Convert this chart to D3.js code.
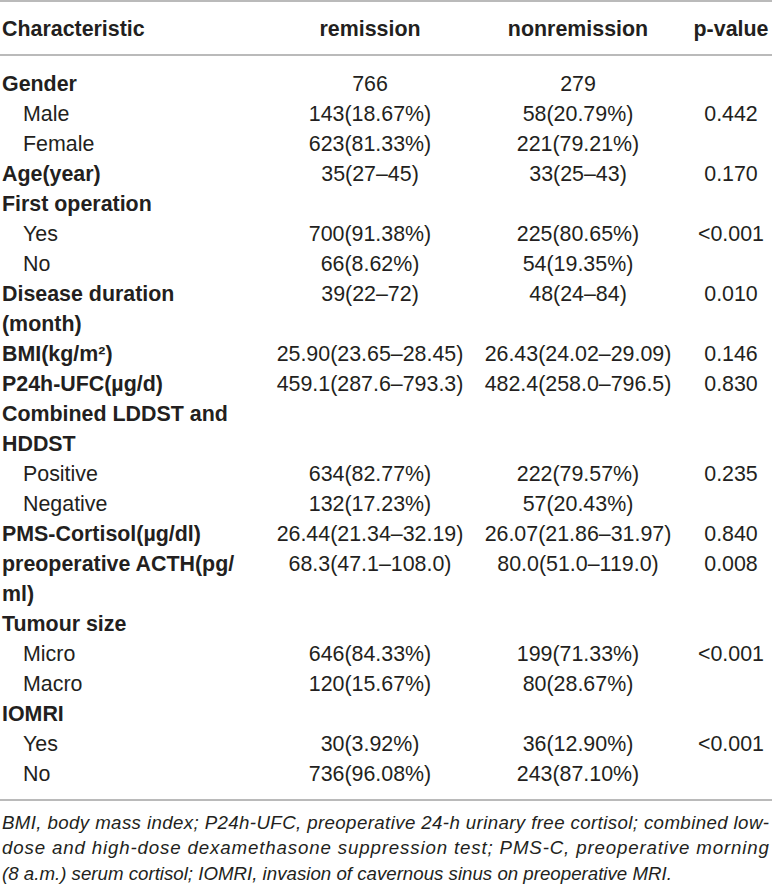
<!DOCTYPE html>
<html>
<head>
<meta charset="utf-8">
<script src="https://cdn.jsdelivr.net/npm/d3@7"></script>
<style>
  html, body { margin: 0; padding: 0; background: #fff; }
  svg { display: block; }
</style>
</head>
<body>
<svg id="chart" width="772" height="890"></svg>
<script>
// ---- data ----
const headers = ["Characteristic", "remission", "nonremission", "p-value"];
// each row: label lines (first line carries the values)
const labels = [
  ["Gender"], ["Male"], ["Female"], ["Age(year)"], ["First operation"], ["Yes"], ["No"],
  ["Disease duration", "(month)"], ["BMI(kg/m²)"], ["P24h-UFC(µg/d)"],
  ["Combined LDDST and", "HDDST"], ["Positive"], ["Negative"], ["PMS-Cortisol(µg/dl)"],
  ["preoperative ACTH(pg/", "ml)"], ["Tumour size"], ["Micro"], ["Macro"], ["IOMRI"], ["Yes"], ["No"]
];
const isGroup = [true, false, false, true, true, false, false, true, true, true, true, false, false, true, true, true, false, false, true, false, false];
const remission = ["766", "143(18.67%)", "623(81.33%)", "35(27–45)", "", "700(91.38%)", "66(8.62%)",
  "39(22–72)", "25.90(23.65–28.45)", "459.1(287.6–793.3)", "", "634(82.77%)", "132(17.23%)",
  "26.44(21.34–32.19)", "68.3(47.1–108.0)", "", "646(84.33%)", "120(15.67%)", "", "30(3.92%)", "736(96.08%)"];
const nonremission = ["279", "58(20.79%)", "221(79.21%)", "33(25–43)", "", "225(80.65%)", "54(19.35%)",
  "48(24–84)", "26.43(24.02–29.09)", "482.4(258.0–796.5)", "", "222(79.57%)", "57(20.43%)",
  "26.07(21.86–31.97)", "80.0(51.0–119.0)", "", "199(71.33%)", "80(28.67%)", "", "36(12.90%)", "243(87.10%)"];
const pvalues = ["", "0.442", "", "0.170", "", "<0.001", "", "0.010", "0.146", "0.830", "", "0.235", "",
  "0.840", "0.008", "", "<0.001", "", "", "<0.001", ""];
const footnote = [
  "BMI, body mass index; P24h-UFC, preoperative 24-h urinary free cortisol; combined low-",
  "dose and high-dose dexamethasone suppression test; PMS-C, preoperative morning",
  "(8 a.m.) serum cortisol; IOMRI, invasion of cavernous sinus on preoperative MRI."
];

// ---- layout ----
const svg = d3.select("#chart");
const W = 772;
const textColor = "#231f20";
const ruleColor = "#a3a3a3";
const font = "'Liberation Sans', Arial, Helvetica, sans-serif";
const fs = 21.4;

// line index -> y center
let lineIdx = 0;
const rows = labels.map((lab, i) => {
  const r = { lines: lab, start: lineIdx, group: isGroup[i], rem: remission[i], non: nonremission[i], p: pvalues[i] };
  lineIdx += lab.length;
  return r;
});
const nLines = lineIdx;
const y = d3.scaleLinear().domain([0, nLines - 1]).range([83, 773]);
const colX = d3.scaleOrdinal().domain(["rem", "non", "p"]).range([370, 578, 731]);

// rules
const rules = [1, 55, 800];
svg.selectAll("line.rule").data(rules).join("line")
  .attr("class", "rule")
  .attr("x1", 0).attr("x2", W)
  .attr("y1", d => d).attr("y2", d => d)
  .attr("stroke", ruleColor).attr("stroke-width", 1.6);

// header
const hdrY = 28;
svg.append("text").attr("x", 2).attr("y", hdrY).attr("dy", "0.36em")
  .attr("font-family", font).attr("font-size", fs).attr("font-weight", "bold")
  .attr("fill", textColor).text(headers[0]);
["rem", "non", "p"].forEach((k, i) => {
  svg.append("text").attr("x", colX(k)).attr("y", hdrY).attr("dy", "0.36em")
    .attr("text-anchor", "middle")
    .attr("font-family", font).attr("font-size", fs).attr("font-weight", "bold")
    .attr("fill", textColor).text(headers[i + 1]);
});

// body
const g = svg.append("g");
rows.forEach(r => {
  r.lines.forEach((ln, j) => {
    g.append("text")
      .attr("x", r.group ? 2 : 23)
      .attr("y", y(r.start + j)).attr("dy", "0.36em")
      .attr("font-family", font).attr("font-size", fs)
      .attr("font-weight", r.group ? "bold" : "normal")
      .attr("fill", textColor).text(ln);
  });
  [["rem", r.rem], ["non", r.non], ["p", r.p]].forEach(([k, v]) => {
    if (!v) return;
    g.append("text")
      .attr("x", colX(k)).attr("y", y(r.start)).attr("dy", "0.36em")
      .attr("text-anchor", "middle")
      .attr("font-family", font).attr("font-size", fs)
      .attr("fill", textColor).text(v);
  });
});

// footnote
const fy = d3.scaleLinear().domain([0, 2]).range([822, 873]);
footnote.forEach((t, i) => {
  const el = svg.append("text")
    .attr("x", 2).attr("y", fy(i)).attr("dy", "0.36em")
    .attr("font-family", font).attr("font-size", 18.7).attr("font-style", "italic")
    .attr("fill", textColor).text(t);
  if (i < 2) el.attr("textLength", 767).attr("lengthAdjust", "spacing");
});
</script>
</body>
</html>
